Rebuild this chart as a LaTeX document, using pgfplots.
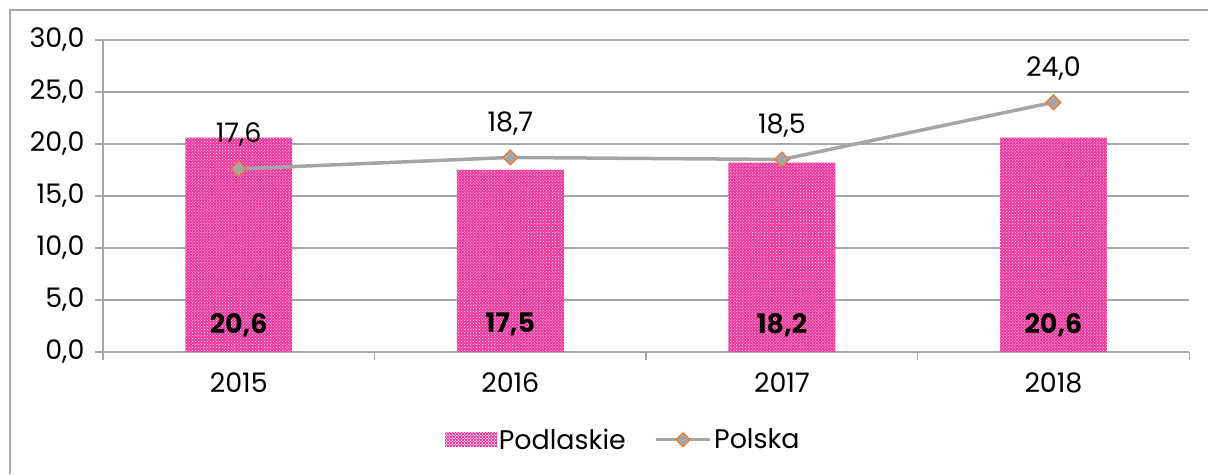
\documentclass[border=0pt]{standalone}
\usepackage{fontspec}
\setmainfont{Poppins}
\usepackage{pgfplots}
\pgfplotsset{compat=1.18}
\usetikzlibrary{patterns}
\definecolor{barpink}{RGB}{240,50,155}
\definecolor{linegray}{RGB}{165,165,165}
\definecolor{mkorange}{RGB}{237,125,49}
\definecolor{gridgray}{RGB}{166,166,166}
\newcommand{\chartfont}{\fontsize{27}{31}\selectfont}
\begin{document}
\begin{tikzpicture}[x=1bp,y=1bp]
\path (0,0) rectangle (1209,-474);
\draw[gridgray, line width=1.5bp] (10,-474) -- (10,-10) -- (1209,-10);
\begin{axis}[
  at={(103bp,-352bp)}, anchor=south west, scale only axis,
  width=1087bp, height=312bp,
  xmin=-0.5, xmax=3.5, ymin=0, ymax=30,
  ytick={0,5,...,30},
  xtick={0,1,2,3}, xticklabels={2015,2016,2017,2018},
  minor xtick={-0.5,0.5,1.5,2.5,3.5},
  major x tick style={draw=none},
  axis x line*=bottom, axis y line*=left,
  axis line style={gridgray, line width=1.5bp, -},
  ymajorgrids, grid style={gridgray, line width=1.5bp},
  tick align=outside, major tick length=8bp, minor tick length=8bp,
  tick style={gridgray, line width=1.5bp},
  /pgf/number format/assume math mode=true,
  /pgf/number format/fixed, /pgf/number format/fixed zerofill,
  /pgf/number format/precision=1, /pgf/number format/use comma,
  ticklabel style={font=\chartfont},
  yticklabel style={xshift=-7bp},
  xticklabel style={yshift=-9bp},
  legend style={at={(0.479,-0.282)}, anchor=center, draw=none, legend columns=2, font=\chartfont,
    /tikz/every even column/.append style={column sep=26bp}},
]
\addplot[ybar, bar width=107bp, draw=none, fill=barpink,
  postaction={pattern=crosshatch dots, pattern color=white},
  legend image code/.code={\fill[barpink] (0bp,-7.5bp) rectangle (52bp,7.5bp);
     \fill[pattern=crosshatch dots, pattern color=white] (0bp,-7.5bp) rectangle (52bp,7.5bp);}]
  coordinates {(0,20.6) (1,17.5) (2,18.2) (3,20.6)};
\addlegendentry{Podlaskie}
\addplot[linegray, line width=3.5bp, mark=square*, mark size=5.3bp,
  mark options={rotate=45, fill=linegray, draw=mkorange, line width=1.2bp},
  nodes near coords, point meta=y,
  nodes near coords style={text=black, font=\chartfont, anchor=center, yshift=34bp},
  legend image code/.code={\draw[linegray, line width=3.5bp] (0bp,0bp) -- (55bp,0bp);
     \draw[fill=linegray, draw=mkorange, line width=1.2bp] (27.5bp,-7bp) -- (34.5bp,0bp) -- (27.5bp,7bp) -- (20.5bp,0bp) -- cycle;}]
  coordinates {(0,17.6) (1,18.7) (2,18.5) (3,24.0)};
\addlegendentry{Polska}
\addplot[draw=none, mark=none, forget plot, nodes near coords, point meta=\thisrow{v},
  nodes near coords style={text=black, font=\bfseries\chartfont, anchor=center}]
  table[row sep=\\] {x y v \\ 0 2.6 20.6 \\ 1 2.6 17.5 \\ 2 2.6 18.2 \\ 3 2.6 20.6 \\};
\end{axis}
\end{tikzpicture}
\end{document}
